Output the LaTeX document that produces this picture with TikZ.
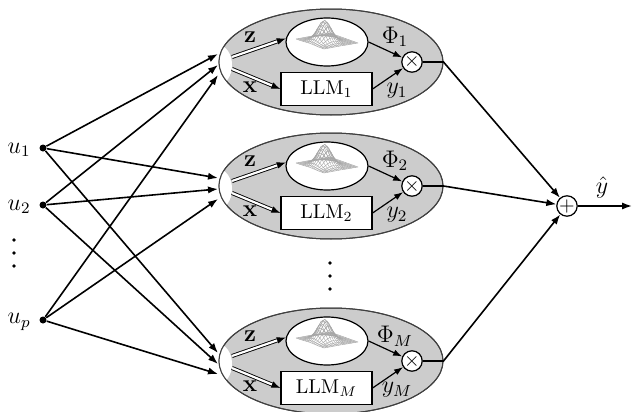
\documentclass[tikz,border=0pt]{standalone}
\usetikzlibrary{arrows.meta,calc,shapes.geometric}
\begin{document}
\begin{tikzpicture}[x=0.5pt,y=-0.5pt,
  dot/.style={circle,fill=black,inner sep=0pt,minimum size=3.5pt},
  sdot/.style={circle,fill=black,inner sep=0pt,minimum size=1.8pt},
  arr/.style={-{Latex[length=5pt,width=3.6pt]},line width=0.8pt},
  iarr/.style={-{Latex[length=4.5pt,width=3.2pt]},line width=0.6pt},
  darr/.style={double,double distance=1.1pt,line width=0.45pt,-{Latex[length=4.5pt,width=3.4pt]}},
  model/.style={ellipse,draw=black!75,fill=gray!40,line width=0.5pt,minimum width=112pt,minimum height=53pt,inner sep=0pt},
  gauss/.style={ellipse,draw,fill=white,line width=0.6pt,minimum width=41pt,minimum height=24pt,inner sep=0pt},
  llm/.style={rectangle,draw,fill=white,line width=0.6pt,minimum width=45.5pt,minimum height=16.5pt,inner sep=0pt},
  op/.style={circle,draw,fill=white,line width=0.6pt,minimum size=9.5pt,inner sep=0pt},
  lab/.style={font=\large,inner sep=0pt},
  mesh/.style={gray!70,line width=0.2pt}
]
\useasboundingbox (0,0) rectangle (633,412);

% inputs
\node[dot] (u1) at (43,148) {};
\node[dot] (u2) at (43,205) {};
\node[dot] (up) at (43,320) {};
\node[lab,anchor=east] (lu1) at (31,150) {$u_1$};
\node[lab,anchor=east] (lu2) at (31,207) {$u_2$};
\node[lab,anchor=east] (lup) at (31,322) {$u_p$};
\node[sdot] (ld1) at (14,240) {};
\node[sdot] (ld2) at (14,253) {};
\node[sdot] (ld3) at (14,266) {};

% sum node
\node[op] (S) at (567,206) {$+$};
\coordinate (out) at (632,206);
\draw[arr] (S) -- (out);
\node[lab] (yhat) at (602,187) {$\hat{y}$};

% middle dots
\node[sdot] (md1) at (330,263) {};
\node[sdot] (md2) at (330,276) {};
\node[sdot] (md3) at (330,289) {};

\foreach \mm/\yc in {1/62,2/186,M/361} {
  \node[model] (E\mm) at (331,\yc) {};
  \begin{scope}
    \clip (E\mm.center) ellipse [x radius=56pt, y radius=26.5pt];
    \fill[white] (218,{\yc+3}) ellipse [x radius=7pt, y radius=10pt];
  \end{scope}
  \draw[black!75,line width=0.5pt] (E\mm.center) ellipse [x radius=56pt, y radius=26.5pt];

  \node[gauss] (G\mm) at (327,{\yc-20}) {};
  \begin{scope}[shift={(G\mm.center)}]
    \foreach \a in {-2,-1.75,...,2.01} {
      \draw[mesh] plot[domain=-2:2,samples=17,variable=\b]
        ({8.5*(\a)+7*(\b)},{-1-1.5*(\a)+2.5*(\b)-21*exp(-((\a+0.3)*(\a+0.3)+(\b)*(\b))/0.8)});
      \draw[mesh] plot[domain=-2:2,samples=17,variable=\b]
        ({8.5*(\b)+7*(\a)},{-1-1.5*(\b)+2.5*(\a)-21*exp(-((\b+0.3)*(\b+0.3)+(\a)*(\a))/0.8)});
    }
  \end{scope}

  \node[llm] (B\mm) at (326.5,{\yc+27}) {LLM$_{\mm}$};
  \node[op] (X\mm) at (412,\yc) {$\times$};

  \coordinate (zs\mm) at ($(E\mm.center)+(-99,-5)$);
  \coordinate (xs\mm) at ($(E\mm.center)+(-99,7)$);
  \draw[darr] (zs\mm) -- (G\mm.175);
  \draw[darr] (xs\mm) -- (B\mm.west);
  \node[lab] (lz\mm) at (250,{\yc-25}) {$\mathbf{z}$};
  \node[lab] (lx\mm) at (250,{\yc+25}) {$\mathbf{x}$};

  \draw[iarr] (G\mm.east) -- (X\mm);
  \draw[iarr] (B\mm.east) -- (X\mm);
  \node[lab] (lphi\mm) at (395,{\yc-25}) {$\Phi_{\mm}$};
  \node[lab] (ly\mm) at (397,{\yc+29}) {$y_{\mm}$};

  \draw[line width=0.8pt] (X\mm.east) -- (E\mm.east);
  \draw[arr] (E\mm.east) -- (S);

  \coordinate (ia\mm) at ($(E\mm.center)+(-113,-8)$);
  \coordinate (ib\mm) at ($(E\mm.center)+(-113,3)$);
  \coordinate (ic\mm) at ($(E\mm.center)+(-113,13)$);
  \draw[arr] (u1) -- (ia\mm);
  \draw[arr] (u2) -- (ib\mm);
  \draw[arr] (up) -- (ic\mm);
}
\end{tikzpicture}
\end{document}
